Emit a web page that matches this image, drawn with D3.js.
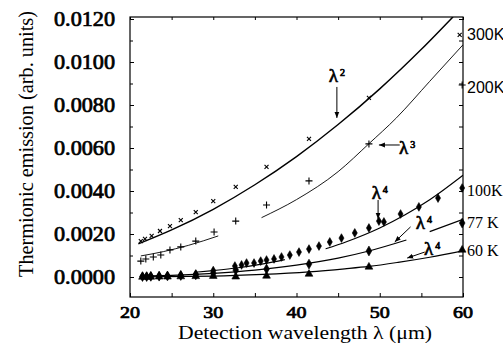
<!DOCTYPE html>
<html lang="en">
<head>
<meta charset="UTF-8">
<title>Thermionic emission</title>
<script src="https://d3js.org/d3.v7.min.js"></script>
<style>
  body { margin: 0; background: #fff; }
  text { font-family: "Liberation Serif", "DejaVu Serif", serif; fill: #000; }
  text.sans { font-family: "Liberation Sans", Arial, sans-serif; }
  text.heavy { stroke: #000; stroke-width: 0.7px; }
</style>
</head>
<body>
<div id="chart"></div>
<script>

// measured points (wavelength in um, emission in arb. units)
var wl300 = [21.3, 21.8, 22.6, 23.6, 24.8, 26.1, 27.9, 30.0, 32.7, 36.4, 41.5, 48.7, 59.6];
var em300 = [0.00167, 0.00177, 0.00191, 0.00214, 0.00237, 0.00265, 0.00302, 0.00353, 0.00419, 0.00512, 0.00642, 0.00833, 0.01126];

var wl200 = [21.3, 21.9, 22.8, 23.7, 24.8, 26.1, 27.9, 30.1, 32.7, 36.4, 41.5, 48.7, 59.9];
var em200 = [0.00074, 0.00084, 0.00093, 0.00102, 0.00126, 0.0014, 0.00167, 0.00209, 0.0026, 0.00335, 0.00447, 0.00619, 0.00893];

var wl100 = [21.5, 22.0, 22.5, 23.5, 24.5, 26.1, 27.9, 30.0, 32.6, 33.4, 34.0, 34.9, 35.7, 36.4, 37.3, 38.2, 39.2, 40.3, 41.5, 42.7, 44.0, 45.4, 47.0, 48.7, 49.9, 50.5, 52.5, 54.7, 57.0, 59.9];
var em100 = [0.00003, 0.00003, 0.00004, 0.00005, 0.00006, 0.00009, 0.00014, 0.0003, 0.00051, 0.00056, 0.00065, 0.00065, 0.00074, 0.00079, 0.00084, 0.00093, 0.00102, 0.00116, 0.0013, 0.00144, 0.00163, 0.00181, 0.00205, 0.00228, 0.0026, 0.00256, 0.00293, 0.00326, 0.00367, 0.00414];

var wl77 = [21.5, 22.0, 22.5, 23.5, 24.5, 26.1, 27.9, 30.0, 32.7, 36.4, 41.5, 48.7, 59.9];
var em77 = [0.00002, 0.00002, 0.00003, 0.00004, 0.00005, 0.00007, 0.0001, 0.00018, 0.00032, 0.00037, 0.0006, 0.00121, 0.00251];

var wl60 = [21.5, 22.0, 22.5, 23.5, 24.5, 26.1, 27.9, 30.0, 32.7, 36.4, 41.5, 48.7, 59.9];
var em60 = [0.0, 0.0, 0.0, 0.00001, 0.00001, 0.00002, 0.00003, 0.00004, 0.00001, 0.00005, 0.00014, 0.00047, 0.00126];

// fitted curves (null = gap in the drawn line)
var fitWl300 = [21.0, 25, 30, 35, 40, 45, 50, 55, 58.8];
var fitEm300 = [0.00154, 0.00219, 0.00315, 0.00429, 0.0056, 0.00709, 0.00875, 0.01059, 0.0121];

var fitWl200 = [21.3, 24, 27, 30.6, 33, 35.8, 40, 45, 48.7, 52, 56, 60];
var fitEm200 = [0.00098, 0.00118, 0.00147, 0.00191, null, 0.00276, 0.0036, 0.0049, 0.0062, 0.0074, 0.0091, 0.0108];

var fitWl100 = [27.8, 30, 33, 36, 38.6, 41, 43.5, 46, 50, 53, 56, 60];
var fitEm100 = [0.00022, 0.0003, 0.00043, 0.00061, 0.00081, null, 0.00131, 0.00164, 0.00228, 0.00288, 0.00359, 0.00473];

var fitWl77 = [21.2, 25, 30, 35, 40, 45, 48.7, 53.2, 54.6, 56, 60];
var fitEm77 = [0.00004, 0.00008, 0.00017, 0.00032, 0.00055, 0.00088, 0.00121, 0.00172, null, 0.00211, 0.00268];

var fitWl60 = [21.2, 30, 36, 41.5, 45.8, 48.7, 52.2, 56, 60];
var fitEm60 = [0.00001, 0.00004, 0.00012, 0.00024, 0.00038, 0.00049, 0.00068, 0.00092, 0.00122];

var tempLabels = ["300K", "200K", "100K", "77 K", "60 K"];
var yTicks = [0, 0.002, 0.004, 0.006, 0.008, 0.010, 0.012];
var xTicks = [20, 30, 40, 50, 60];

var width = 503, height = 350;
var plot = {left: 130, right: 463, top: 17, bottom: 297};

var svg = d3.select("#chart").append("svg")
    .attr("width", width)
    .attr("height", height);

var x = d3.scaleLinear().domain([20, 60]).range([plot.left, plot.right]);
var y = d3.scaleLinear().domain([0, 0.012]).range([277, 19]);

svg.append("clipPath").attr("id", "clip")
  .append("rect")
    .attr("x", plot.left).attr("y", plot.top)
    .attr("width", plot.right - plot.left).attr("height", plot.bottom - plot.top);

// frame
svg.append("rect")
    .attr("x", plot.left).attr("y", plot.top)
    .attr("width", plot.right - plot.left).attr("height", plot.bottom - plot.top)
    .attr("fill", "none").attr("stroke", "#000").attr("stroke-width", 1.2);

// tick marks (inward) on every side, no axis text
var minorY = d3.range(0, 13).map(function(i) { return i * 0.001; });
var minorX = d3.range(20, 61, 5);

function ticks(axis, tx, ty) {
  svg.append("g").attr("transform", "translate(" + tx + "," + ty + ")")
      .call(axis.tickFormat(""))
    .call(function(g) { g.select(".domain").remove(); g.selectAll("text").remove(); })
    .selectAll("line").attr("stroke", "#000");
}
ticks(d3.axisLeft(y).tickValues(yTicks).tickSize(-4), plot.left, 0);
ticks(d3.axisLeft(y).tickValues(minorY).tickSize(-3), plot.left, 0);
ticks(d3.axisRight(y).tickValues(minorY).tickSize(-4), plot.right, 0);
ticks(d3.axisTop(x).tickValues(minorX).tickSize(-3), 0, plot.top);
ticks(d3.axisBottom(x).tickValues(minorX).tickSize(-4), 0, plot.bottom);

// tick labels (the original face is a little wider than Times)
var fmtY = d3.format(".4f");
svg.append("g").selectAll("text")
  .data(yTicks)
  .enter().append("text")
    .attr("class", "heavy")
    .attr("x", plot.left - 15)
    .attr("y", function(d) { return y(d); })
    .attr("dy", "0.35em")
    .attr("text-anchor", "end")
    .attr("textLength", 61)
    .attr("lengthAdjust", "spacingAndGlyphs")
    .style("font-size", "20px")
    .text(fmtY);

svg.append("g").selectAll("text")
  .data(xTicks)
  .enter().append("text")
    .attr("class", "heavy")
    .attr("x", function(d) { return x(d); })
    .attr("y", 318)
    .attr("text-anchor", "middle")
    .attr("textLength", 20)
    .attr("lengthAdjust", "spacingAndGlyphs")
    .style("font-size", "16px")
    .text(function(d) { return d; });

// axis titles
svg.append("text")
    .attr("x", 305).attr("y", 339)
    .attr("text-anchor", "middle")
    .attr("textLength", 254)
    .attr("lengthAdjust", "spacingAndGlyphs")
    .style("font-size", "19px")
    .text("Detection wavelength \u03bb (\u03bcm)");

svg.append("text")
    .attr("transform", "translate(33,144) rotate(-90)")
    .attr("text-anchor", "middle")
    .attr("textLength", 266)
    .attr("lengthAdjust", "spacingAndGlyphs")
    .style("font-size", "20px")
    .text("Thermionic emission (arb. units)");

// fitted curves
var line = d3.line()
    .defined(function(d) { return d[1] != null; })
    .x(function(d) { return x(d[0]); })
    .y(function(d) { return y(d[1]); })
    .curve(d3.curveMonotoneX);

var fits = [
  {wl: fitWl300, em: fitEm300, w: 1.4},
  {wl: fitWl200, em: fitEm200, w: 0.9},
  {wl: fitWl100, em: fitEm100, w: 1.2},
  {wl: fitWl77, em: fitEm77, w: 1.2},
  {wl: fitWl60, em: fitEm60, w: 1.2}
];

var curves = svg.append("g").attr("clip-path", "url(#clip)");
fits.forEach(function(f) {
  curves.append("path")
      .datum(f.wl.map(function(d, i) { return [d, f.em[i]]; }))
      .attr("d", line)
      .attr("fill", "none")
      .attr("stroke", "#000")
      .attr("stroke-width", f.w);
});

// markers
var shapes = {
  times: "M-2,-2L2,2M-2,2L2,-2",
  plus: "M-3.5,0L3.5,0M0,-3.5L0,3.5"
};
var series = [
  {wl: wl300, em: em300, kind: "stroke", path: shapes.times},
  {wl: wl200, em: em200, kind: "stroke", path: shapes.plus},
  {wl: wl100, em: em100, kind: "fill", path: d3.symbol(d3.symbolDiamond, 22)()},
  {wl: wl77, em: em77, kind: "fill", path: d3.symbol(d3.symbolDiamond, 28)()},
  {wl: wl60, em: em60, kind: "fill", path: d3.symbol(d3.symbolTriangle, 26)()}
];

series.forEach(function(s) {
  svg.append("g").selectAll("path")
    .data(s.wl.map(function(d, i) { return [d, s.em[i]]; }))
    .enter()
    .append("path")
      .attr("transform", function(d) { return "translate(" + x(d[0]) + "," + y(d[1]) + ")"; })
      .attr("d", s.path)
      .attr("fill", s.kind == "fill" ? "#000" : "none")
      .attr("stroke", "#000")
      .attr("stroke-width", s.kind == "fill" ? 0.6 : 1.1);
});

// temperature labels at the right edge
var labelY = [0.0113, 0.0088, 0.00405, 0.00252, 0.00126];
tempLabels.forEach(function(t, i) {
  svg.append("text")
      .attr("class", i < 2 ? "sans" : null)
      .attr("x", plot.right + 4)
      .attr("y", y(labelY[i]))
      .attr("dy", "0.35em")
      .style("font-size", "16px")
      .text(t);
});

// exponent annotations with arrows (data coordinates)
var notes = [
  {p: "2", lx: 44.85, ly: 0.0094, from: [44.85, 0.00884], to: [44.85, 0.0074]},
  {p: "3", lx: 53.3, ly: 0.00605, from: [52.4, 0.00614], to: [49.9, 0.00614]},
  {p: "4", lx: 50.0, ly: 0.00395, from: [49.8, 0.00358], to: [49.8, 0.0027]},
  {p: "4", lx: 55.3, ly: 0.00256, from: [53.7, 0.00233], to: [51.8, 0.00163]},
  {p: "4", lx: 56.3, ly: 0.00135, from: [55.4, 0.00116], to: [53.3, 0.00088]}
];

svg.append("defs").append("marker")
    .attr("id", "head")
    .attr("viewBox", "0 -5 10 10")
    .attr("refX", 10).attr("refY", 0)
    .attr("markerWidth", 6).attr("markerHeight", 6)
    .attr("orient", "auto")
  .append("path")
    .attr("d", "M0,-4L10,0L0,4Z")
    .attr("fill", "#000");

notes.forEach(function(n) {
  svg.append("line")
      .attr("x1", x(n.from[0])).attr("y1", y(n.from[1]))
      .attr("x2", x(n.to[0])).attr("y2", y(n.to[1]))
      .attr("stroke", "#000").attr("stroke-width", 1)
      .attr("marker-end", "url(#head)");
  var t = svg.append("text")
      .attr("class", "heavy")
      .attr("x", x(n.lx)).attr("y", y(n.ly))
      .attr("dy", "0.35em")
      .attr("text-anchor", "middle")
      .style("font-size", "19px");
  t.append("tspan").text("\u03bb");
  t.append("tspan").attr("dy", "-0.6em").attr("dx", "2").style("font-size", "10px").text(n.p);
});

</script>
</body>
</html>
